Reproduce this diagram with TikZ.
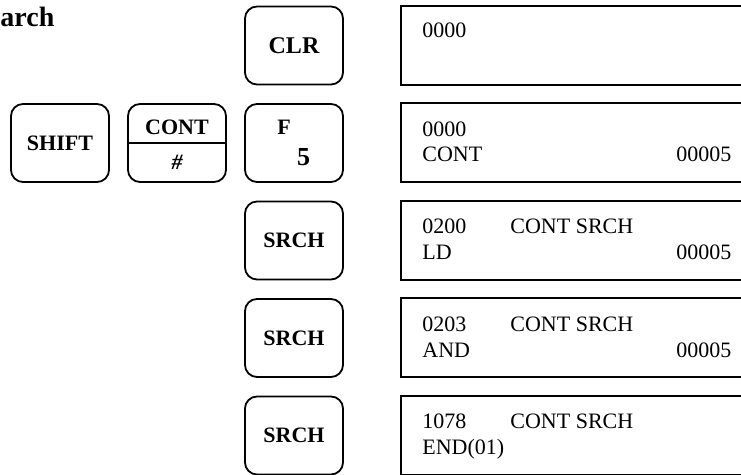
\documentclass[tikz,border=0pt]{standalone}
\usepackage{fontspec}
\setmainfont{Liberation Serif}
\usetikzlibrary{positioning}

\begin{document}
\begin{tikzpicture}[
        x=0.5pt, y=-0.5pt,
        node distance=9.75pt,
        key/.style={
            draw,
            line width=0.9pt,
            rounded corners=6pt,
            minimum width=49pt,
            minimum height=39pt,
            inner sep=0pt,
            outer sep=0pt,
            font=\bfseries\fontsize{11}{13}\selectfont
        },
        screen/.style={
            draw,
            line width=1pt,
            minimum width=180pt,
            minimum height=39.5pt,
            inner sep=0pt,
            outer sep=0pt
        },
        txt/.style={anchor=base west, inner sep=0pt, font=\fontsize{11}{13}\selectfont},
        keytxt/.style={anchor=base, inner sep=0pt}
    ]
        \useasboundingbox (0,0) rectangle (741,475);
        \clip (0,0) rectangle (741,475);

        \node[anchor=base west, inner sep=0pt, font=\bfseries\fontsize{14}{16}\selectfont] (title) at (0,27) {arch};

        \node[key, font=\bfseries\fontsize{12}{14}\selectfont] (clr) at (294,45.5) {CLR};
        \node[key, below=of clr] (f5) {};
        \node[key, below=of f5] (srch1) {SRCH};
        \node[key, below=of srch1] (srch2) {SRCH};
        \node[key, below=of srch2] (srch3) {SRCH};

        \node[key, left=9.5pt of f5] (cont) {};
        \node[key, left=9.5pt of cont] (shift) {SHIFT};

        \node[keytxt, font=\bfseries\fontsize{11}{13}\selectfont] (f) at ([shift={(-10,-8.5)}]f5.center) {F};
        \node[keytxt, font=\bfseries\fontsize{13}{15}\selectfont] (five) at ([shift={(9.5,22.5)}]f5.center) {5};

        \draw[line width=1.1pt] (cont.west) -- (cont.east);
        \node[keytxt, font=\bfseries\fontsize{11}{13}\selectfont] (contup) at ([shift={(0,-8.5)}]cont.center) {CONT};
        \node[keytxt, font=\bfseries\itshape\fontsize{11}{13}\selectfont] (hash) at ([shift={(0,27)}]cont.center) {\#};

        \node[screen, right=29pt of clr, anchor=west] (d1) {};
        \node[screen, right=29pt of f5, anchor=west] (d2) {};
        \node[screen, right=29pt of srch1, anchor=west] (d3) {};
        \node[screen, right=29pt of srch2, anchor=west] (d4) {};
        \node[screen, right=29pt of srch3, anchor=west] (d5) {};

        \node[txt] (d1a) at ([shift={(21,32)}]d1.north west) {0000};

        \node[txt] (d2a) at ([shift={(21,33)}]d2.north west) {0000};
        \node[txt] (d2b) at ([shift={(21,58)}]d2.north west) {CONT};
        \node[txt] (d2c) at ([shift={(275,58)}]d2.north west) {00005};

        \node[txt] (d3a) at ([shift={(21,33)}]d3.north west) {0200};
        \node[txt] (d3b) at ([shift={(109,33)}]d3.north west) {CONT SRCH};
        \node[txt] (d3c) at ([shift={(21,59)}]d3.north west) {LD};
        \node[txt] (d3d) at ([shift={(275,59)}]d3.north west) {00005};

        \node[txt] (d4a) at ([shift={(21,33)}]d4.north west) {0203};
        \node[txt] (d4b) at ([shift={(109,33)}]d4.north west) {CONT SRCH};
        \node[txt] (d4c) at ([shift={(21,59)}]d4.north west) {AND};
        \node[txt] (d4d) at ([shift={(275,59)}]d4.north west) {00005};

        \node[txt] (d5a) at ([shift={(21,33)}]d5.north west) {1078};
        \node[txt] (d5b) at ([shift={(109,33)}]d5.north west) {CONT SRCH};
        \node[txt] (d5c) at ([shift={(21,59)}]d5.north west) {END(01)};

    \end{tikzpicture}
\end{document}
